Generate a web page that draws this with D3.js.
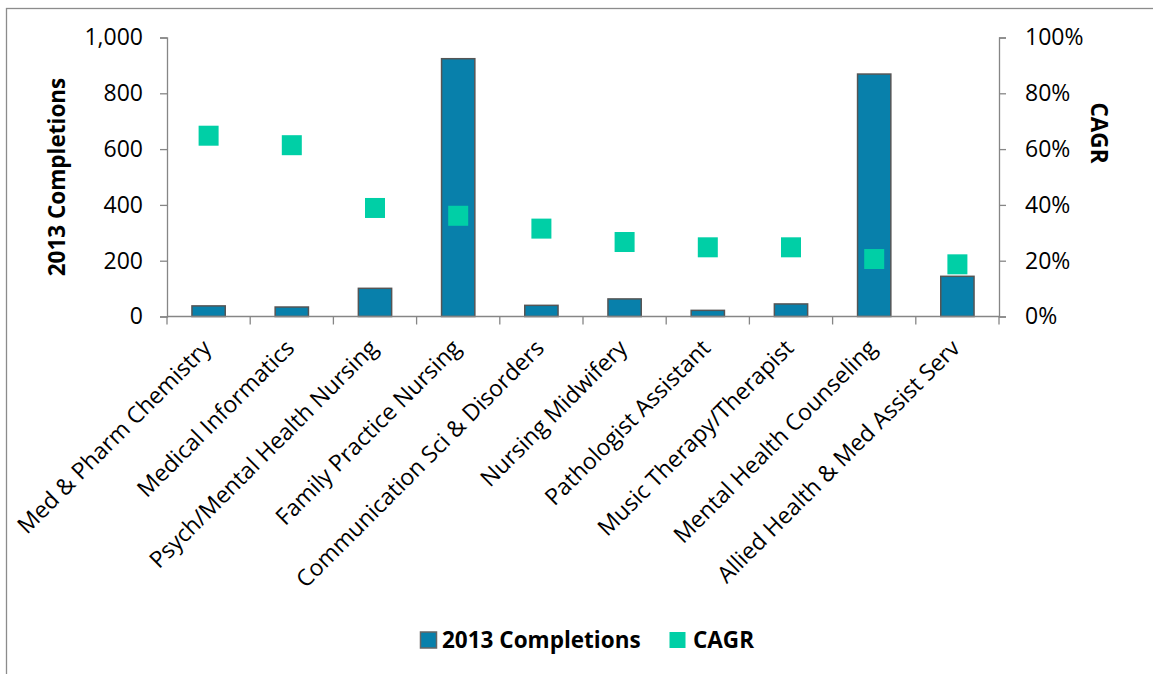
<!DOCTYPE html>
<html>
<head>
<meta charset="utf-8">
<script src="https://cdn.jsdelivr.net/npm/d3@7"></script>
<style>
  html, body { margin: 0; padding: 0; background: #fff; }
  svg { display: block; font-family: "Open Sans", sans-serif; }
</style>
</head>
<body>
<svg id="chart" width="1153" height="674"></svg>
<script>
// Program categories, 2013 completions and compound annual growth rate
const categories = [
  "Med & Pharm Chemistry",
  "Medical Informatics",
  "Psych/Mental Health Nursing",
  "Family Practice Nursing",
  "Communication Sci & Disorders",
  "Nursing Midwifery",
  "Pathologist Assistant",
  "Music Therapy/Therapist",
  "Mental Health Counseling",
  "Allied Health & Med Assist Serv"
];
const completions = [38, 34, 101, 924, 40, 63, 22, 45, 869, 144];
const cagr = [0.648, 0.614, 0.389, 0.361, 0.315, 0.267, 0.248, 0.248, 0.206, 0.187];
const leftTicks = [0, 200, 400, 600, 800, 1000];
const rightTicks = [0, 0.2, 0.4, 0.6, 0.8, 1.0];
const seriesNames = ["2013 Completions", "CAGR"];

const barColor = "#0880ab";
const barStroke = "#555555";
const markerColor = "#00cfa6";
const axisColor = "#868686";

const svg = d3.select("#chart");

const plot = { left: 167, right: 999, top: 37.5, bottom: 316.5 };

// outer chart frame
svg.append("rect")
  .attr("x", 6.5).attr("y", 8.5)
  .attr("width", 1160).attr("height", 700)
  .attr("fill", "none").attr("stroke", "#8c8c8c").attr("stroke-width", 1.3);

const x = d3.scaleBand().domain(categories)
  .range([plot.left, plot.right]).paddingInner(0.6).paddingOuter(0.3);
const xCat = d3.scaleBand().domain(categories)
  .range([plot.left, plot.right]).padding(0);
const yLeft = d3.scaleLinear().domain([0, 1000]).range([plot.bottom, plot.top]);
const yRight = d3.scaleLinear().domain([0, 1]).range([plot.bottom, plot.top]);

// left axis
const gL = svg.append("g").attr("transform", `translate(${plot.left},0)`)
  .call(d3.axisLeft(yLeft).tickValues(leftTicks).tickFormat(d3.format(",")).tickSize(7).tickPadding(17));
// right axis
const gR = svg.append("g").attr("transform", `translate(${plot.right},0)`)
  .call(d3.axisRight(yRight).tickValues(rightTicks).tickFormat(d3.format(".0%")).tickSize(7).tickPadding(19));
[gL, gR].forEach(g => {
  g.select(".domain").attr("stroke", axisColor).attr("stroke-width", 1.3);
  g.selectAll(".tick line").attr("stroke", axisColor).attr("stroke-width", 1.3);
  g.selectAll(".tick text").attr("fill", "#000").attr("font-size", 23)
    .attr("font-family", "'Open Sans', sans-serif");
});

// bars
svg.append("g").selectAll("rect").data(categories).join("rect")
  .attr("x", d => x(d))
  .attr("y", (d, i) => yLeft(completions[i]))
  .attr("width", x.bandwidth())
  .attr("height", (d, i) => yLeft(0) - yLeft(completions[i]))
  .attr("fill", barColor)
  .attr("stroke", barStroke)
  .attr("stroke-width", 1.5);

// category axis line and ticks at band boundaries
const gX = svg.append("g");
gX.append("line")
  .attr("x1", plot.left).attr("x2", plot.right)
  .attr("y1", plot.bottom).attr("y2", plot.bottom)
  .attr("stroke", axisColor).attr("stroke-width", 1.3);
const bounds = categories.map(c => xCat(c)).concat([plot.right]);
gX.selectAll("line.tk").data(bounds).join("line").attr("class", "tk")
  .attr("x1", d => d).attr("x2", d => d)
  .attr("y1", plot.bottom).attr("y2", plot.bottom + 8)
  .attr("stroke", axisColor).attr("stroke-width", 1.3);

// rotated category labels
gX.selectAll("text").data(categories).join("text")
  .attr("transform", d => `translate(${xCat(d) + xCat.bandwidth() / 2 + 4},${plot.bottom + 33}) rotate(-45)`)
  .attr("text-anchor", "end")
  .attr("font-size", 23)
  .attr("fill", "#000")
  .text(d => d);

// CAGR markers
const m = 20;
svg.append("g").selectAll("rect").data(categories).join("rect")
  .attr("x", d => x(d) + x.bandwidth() / 2 - m / 2)
  .attr("y", (d, i) => yRight(cagr[i]) - m / 2)
  .attr("width", m).attr("height", m)
  .attr("fill", markerColor);

// axis titles
svg.append("text")
  .attr("transform", `translate(65,177) rotate(-90)`)
  .attr("text-anchor", "middle")
  .attr("font-size", 22.5).attr("font-weight", "bold")
  .text("2013 Completions");
svg.append("text")
  .attr("transform", `translate(1091,133) rotate(90)`)
  .attr("text-anchor", "middle")
  .attr("font-size", 22.5).attr("font-weight", "bold")
  .text("CAGR");

// legend
const legend = svg.append("g");
const legendItems = [
  { name: seriesNames[0], fill: barColor, stroke: "#666", sx: 420.5, tx: 442 },
  { name: seriesNames[1], fill: markerColor, stroke: "none", sx: 669.5, tx: 693 }
];
legendItems.forEach(it => {
  legend.append("rect")
    .attr("x", it.sx).attr("y", 632).attr("width", 16).attr("height", 16)
    .attr("fill", it.fill).attr("stroke", it.stroke).attr("stroke-width", 1.5);
  legend.append("text")
    .attr("x", it.tx).attr("y", 648)
    .attr("font-size", 22.5).attr("font-weight", "bold")
    .text(it.name);
});
</script>
</body>
</html>
